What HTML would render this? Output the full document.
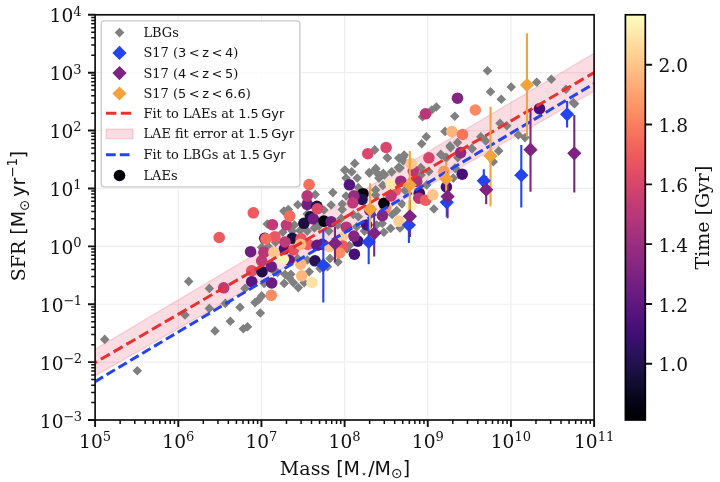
<!DOCTYPE html>
<html><head><meta charset="utf-8"><title>SFR vs Mass</title>
<style>html,body{margin:0;padding:0;background:#fff}svg{display:block}</style></head>
<body>
<svg width="720" height="482" viewBox="0 0 720 482">
<rect width="720" height="482" fill="#fff"/>
<defs><clipPath id="ax"><rect x="95.10" y="14.80" width="499.00" height="405.20"/></clipPath>
<linearGradient id="cb" x1="0" y1="0" x2="0" y2="1"><stop offset="0.000" stop-color="#fcfdbf"/><stop offset="0.025" stop-color="#fcf2b4"/><stop offset="0.050" stop-color="#fde7a9"/><stop offset="0.075" stop-color="#fdda9c"/><stop offset="0.100" stop-color="#fecf92"/><stop offset="0.125" stop-color="#fec488"/><stop offset="0.150" stop-color="#feb77e"/><stop offset="0.175" stop-color="#feac76"/><stop offset="0.200" stop-color="#fe9f6d"/><stop offset="0.225" stop-color="#fd9467"/><stop offset="0.250" stop-color="#fc8961"/><stop offset="0.275" stop-color="#f97b5d"/><stop offset="0.300" stop-color="#f7705c"/><stop offset="0.325" stop-color="#f2645c"/><stop offset="0.350" stop-color="#ed5a5f"/><stop offset="0.375" stop-color="#e75263"/><stop offset="0.400" stop-color="#de4968"/><stop offset="0.425" stop-color="#d5446d"/><stop offset="0.450" stop-color="#ca3e72"/><stop offset="0.475" stop-color="#c03a76"/><stop offset="0.500" stop-color="#b73779"/><stop offset="0.525" stop-color="#ab337c"/><stop offset="0.550" stop-color="#a1307e"/><stop offset="0.575" stop-color="#962c80"/><stop offset="0.600" stop-color="#8c2981"/><stop offset="0.625" stop-color="#832681"/><stop offset="0.650" stop-color="#782281"/><stop offset="0.675" stop-color="#6e1e81"/><stop offset="0.700" stop-color="#641a80"/><stop offset="0.725" stop-color="#5a167e"/><stop offset="0.750" stop-color="#51127c"/><stop offset="0.775" stop-color="#451077"/><stop offset="0.800" stop-color="#3b0f70"/><stop offset="0.825" stop-color="#2f1163"/><stop offset="0.850" stop-color="#251255"/><stop offset="0.875" stop-color="#1d1147"/><stop offset="0.900" stop-color="#140e36"/><stop offset="0.925" stop-color="#0d0a29"/><stop offset="0.950" stop-color="#06051a"/><stop offset="0.975" stop-color="#02020d"/><stop offset="1.000" stop-color="#000004"/></linearGradient>
</defs>
<path d="M178.27 14.80V420.00M261.43 14.80V420.00M344.60 14.80V420.00M427.77 14.80V420.00M510.93 14.80V420.00M95.10 362.11H594.10M95.10 304.23H594.10M95.10 246.34H594.10M95.10 188.46H594.10M95.10 130.57H594.10M95.10 72.69H594.10" stroke="#efefef" stroke-width="1.2" fill="none"/>
<g clip-path="url(#ax)">
<polygon points="95.1,349.2 594.1,53.2 594.1,91.3 95.1,376.0" fill="#dc143c" fill-opacity="0.15" stroke="#dc143c" stroke-opacity="0.15" stroke-width="1.3"/>
<path d="M104.7 334.6l4.8 4.8l-4.8 4.8l-4.8 -4.8zM137.3 365.9l4.8 4.8l-4.8 4.8l-4.8 -4.8zM188.7 276.6l4.8 4.8l-4.8 4.8l-4.8 -4.8zM209.3 283.6l4.8 4.8l-4.8 4.8l-4.8 -4.8zM209.3 303.6l4.8 4.8l-4.8 4.8l-4.8 -4.8zM185.0 310.2l4.8 4.8l-4.8 4.8l-4.8 -4.8zM245.0 283.6l4.8 4.8l-4.8 4.8l-4.8 -4.8zM225.3 298.6l4.8 4.8l-4.8 4.8l-4.8 -4.8zM240.0 302.4l4.8 4.8l-4.8 4.8l-4.8 -4.8zM230.3 316.4l4.8 4.8l-4.8 4.8l-4.8 -4.8zM215.0 326.1l4.8 4.8l-4.8 4.8l-4.8 -4.8zM260.3 308.2l4.8 4.8l-4.8 4.8l-4.8 -4.8zM255.0 297.8l4.8 4.8l-4.8 4.8l-4.8 -4.8zM258.7 294.9l4.8 4.8l-4.8 4.8l-4.8 -4.8zM261.7 291.1l4.8 4.8l-4.8 4.8l-4.8 -4.8zM243.3 323.9l4.8 4.8l-4.8 4.8l-4.8 -4.8zM247.5 321.9l4.8 4.8l-4.8 4.8l-4.8 -4.8zM264.2 278.6l4.8 4.8l-4.8 4.8l-4.8 -4.8zM277.5 267.8l4.8 4.8l-4.8 4.8l-4.8 -4.8zM285.0 269.4l4.8 4.8l-4.8 4.8l-4.8 -4.8zM290.8 269.4l4.8 4.8l-4.8 4.8l-4.8 -4.8zM284.2 278.6l4.8 4.8l-4.8 4.8l-4.8 -4.8zM289.2 272.8l4.8 4.8l-4.8 4.8l-4.8 -4.8zM293.3 277.8l4.8 4.8l-4.8 4.8l-4.8 -4.8zM298.3 282.8l4.8 4.8l-4.8 4.8l-4.8 -4.8zM304.2 277.8l4.8 4.8l-4.8 4.8l-4.8 -4.8zM309.2 266.9l4.8 4.8l-4.8 4.8l-4.8 -4.8zM320.0 263.6l4.8 4.8l-4.8 4.8l-4.8 -4.8zM327.5 261.9l4.8 4.8l-4.8 4.8l-4.8 -4.8zM330.0 253.6l4.8 4.8l-4.8 4.8l-4.8 -4.8zM307.5 255.2l4.8 4.8l-4.8 4.8l-4.8 -4.8zM297.5 253.6l4.8 4.8l-4.8 4.8l-4.8 -4.8zM275.0 266.9l4.8 4.8l-4.8 4.8l-4.8 -4.8zM338.0 257.2l4.8 4.8l-4.8 4.8l-4.8 -4.8zM297.8 199.9l4.8 4.8l-4.8 4.8l-4.8 -4.8zM288.3 204.7l4.8 4.8l-4.8 4.8l-4.8 -4.8zM283.9 206.3l4.8 4.8l-4.8 4.8l-4.8 -4.8zM307.2 209.2l4.8 4.8l-4.8 4.8l-4.8 -4.8zM267.2 219.2l4.8 4.8l-4.8 4.8l-4.8 -4.8zM294.4 220.2l4.8 4.8l-4.8 4.8l-4.8 -4.8zM282.8 227.4l4.8 4.8l-4.8 4.8l-4.8 -4.8zM292.2 226.3l4.8 4.8l-4.8 4.8l-4.8 -4.8zM300.0 225.8l4.8 4.8l-4.8 4.8l-4.8 -4.8zM307.2 226.3l4.8 4.8l-4.8 4.8l-4.8 -4.8zM314.4 223.1l4.8 4.8l-4.8 4.8l-4.8 -4.8zM318.9 221.3l4.8 4.8l-4.8 4.8l-4.8 -4.8zM261.7 242.4l4.8 4.8l-4.8 4.8l-4.8 -4.8zM268.3 241.9l4.8 4.8l-4.8 4.8l-4.8 -4.8zM275.6 237.4l4.8 4.8l-4.8 4.8l-4.8 -4.8zM331.1 200.2l4.8 4.8l-4.8 4.8l-4.8 -4.8zM342.2 199.2l4.8 4.8l-4.8 4.8l-4.8 -4.8zM342.2 204.7l4.8 4.8l-4.8 4.8l-4.8 -4.8zM323.9 205.2l4.8 4.8l-4.8 4.8l-4.8 -4.8zM353.3 209.7l4.8 4.8l-4.8 4.8l-4.8 -4.8zM358.3 211.9l4.8 4.8l-4.8 4.8l-4.8 -4.8zM341.1 213.6l4.8 4.8l-4.8 4.8l-4.8 -4.8zM337.8 220.2l4.8 4.8l-4.8 4.8l-4.8 -4.8zM328.9 226.3l4.8 4.8l-4.8 4.8l-4.8 -4.8zM356.7 221.9l4.8 4.8l-4.8 4.8l-4.8 -4.8zM364.4 226.3l4.8 4.8l-4.8 4.8l-4.8 -4.8zM376.7 220.2l4.8 4.8l-4.8 4.8l-4.8 -4.8zM382.2 218.6l4.8 4.8l-4.8 4.8l-4.8 -4.8zM383.9 227.4l4.8 4.8l-4.8 4.8l-4.8 -4.8zM390.6 223.6l4.8 4.8l-4.8 4.8l-4.8 -4.8zM396.7 205.8l4.8 4.8l-4.8 4.8l-4.8 -4.8zM392.2 209.7l4.8 4.8l-4.8 4.8l-4.8 -4.8zM349.4 240.8l4.8 4.8l-4.8 4.8l-4.8 -4.8zM347.0 244.2l4.8 4.8l-4.8 4.8l-4.8 -4.8zM433.9 204.2l4.8 4.8l-4.8 4.8l-4.8 -4.8zM402.0 199.2l4.8 4.8l-4.8 4.8l-4.8 -4.8zM400.0 223.2l4.8 4.8l-4.8 4.8l-4.8 -4.8zM374.8 145.1l4.8 4.8l-4.8 4.8l-4.8 -4.8zM387.2 152.8l4.8 4.8l-4.8 4.8l-4.8 -4.8zM398.9 153.3l4.8 4.8l-4.8 4.8l-4.8 -4.8zM354.7 158.7l4.8 4.8l-4.8 4.8l-4.8 -4.8zM344.7 165.3l4.8 4.8l-4.8 4.8l-4.8 -4.8zM351.7 167.2l4.8 4.8l-4.8 4.8l-4.8 -4.8zM346.1 173.3l4.8 4.8l-4.8 4.8l-4.8 -4.8zM357.2 173.2l4.8 4.8l-4.8 4.8l-4.8 -4.8zM369.4 168.3l4.8 4.8l-4.8 4.8l-4.8 -4.8zM375.6 164.4l4.8 4.8l-4.8 4.8l-4.8 -4.8zM377.8 168.9l4.8 4.8l-4.8 4.8l-4.8 -4.8zM384.4 170.1l4.8 4.8l-4.8 4.8l-4.8 -4.8zM378.9 173.3l4.8 4.8l-4.8 4.8l-4.8 -4.8zM391.7 167.2l4.8 4.8l-4.8 4.8l-4.8 -4.8zM398.3 162.8l4.8 4.8l-4.8 4.8l-4.8 -4.8zM332.8 187.8l4.8 4.8l-4.8 4.8l-4.8 -4.8zM358.3 182.8l4.8 4.8l-4.8 4.8l-4.8 -4.8zM346.1 191.2l4.8 4.8l-4.8 4.8l-4.8 -4.8zM375.6 185.1l4.8 4.8l-4.8 4.8l-4.8 -4.8zM382.8 180.6l4.8 4.8l-4.8 4.8l-4.8 -4.8zM375.6 190.1l4.8 4.8l-4.8 4.8l-4.8 -4.8zM315.2 189.8l4.8 4.8l-4.8 4.8l-4.8 -4.8zM403.3 152.2l4.8 4.8l-4.8 4.8l-4.8 -4.8zM450.6 142.8l4.8 4.8l-4.8 4.8l-4.8 -4.8zM472.2 143.9l4.8 4.8l-4.8 4.8l-4.8 -4.8zM441.1 150.1l4.8 4.8l-4.8 4.8l-4.8 -4.8zM445.6 152.8l4.8 4.8l-4.8 4.8l-4.8 -4.8zM421.1 163.3l4.8 4.8l-4.8 4.8l-4.8 -4.8zM428.9 166.7l4.8 4.8l-4.8 4.8l-4.8 -4.8zM400.0 163.3l4.8 4.8l-4.8 4.8l-4.8 -4.8zM421.1 170.1l4.8 4.8l-4.8 4.8l-4.8 -4.8zM455.6 163.9l4.8 4.8l-4.8 4.8l-4.8 -4.8zM457.8 152.8l4.8 4.8l-4.8 4.8l-4.8 -4.8zM453.3 173.3l4.8 4.8l-4.8 4.8l-4.8 -4.8zM426.7 180.1l4.8 4.8l-4.8 4.8l-4.8 -4.8zM405.0 185.6l4.8 4.8l-4.8 4.8l-4.8 -4.8zM436.3 102.2l4.8 4.8l-4.8 4.8l-4.8 -4.8zM431.7 105.2l4.8 4.8l-4.8 4.8l-4.8 -4.8zM422.5 112.0l4.8 4.8l-4.8 4.8l-4.8 -4.8zM454.8 111.5l4.8 4.8l-4.8 4.8l-4.8 -4.8zM445.0 126.6l4.8 4.8l-4.8 4.8l-4.8 -4.8zM426.3 131.9l4.8 4.8l-4.8 4.8l-4.8 -4.8zM421.7 138.9l4.8 4.8l-4.8 4.8l-4.8 -4.8zM450.0 141.1l4.8 4.8l-4.8 4.8l-4.8 -4.8zM440.8 149.4l4.8 4.8l-4.8 4.8l-4.8 -4.8zM446.7 152.8l4.8 4.8l-4.8 4.8l-4.8 -4.8zM374.5 145.2l4.8 4.8l-4.8 4.8l-4.8 -4.8zM387.5 153.2l4.8 4.8l-4.8 4.8l-4.8 -4.8zM404.2 150.2l4.8 4.8l-4.8 4.8l-4.8 -4.8zM399.2 153.6l4.8 4.8l-4.8 4.8l-4.8 -4.8zM403.3 156.1l4.8 4.8l-4.8 4.8l-4.8 -4.8zM354.7 158.6l4.8 4.8l-4.8 4.8l-4.8 -4.8zM345.0 165.2l4.8 4.8l-4.8 4.8l-4.8 -4.8zM351.7 166.9l4.8 4.8l-4.8 4.8l-4.8 -4.8zM375.8 163.6l4.8 4.8l-4.8 4.8l-4.8 -4.8zM369.2 167.8l4.8 4.8l-4.8 4.8l-4.8 -4.8zM399.2 162.8l4.8 4.8l-4.8 4.8l-4.8 -4.8zM391.7 166.9l4.8 4.8l-4.8 4.8l-4.8 -4.8zM383.3 168.6l4.8 4.8l-4.8 4.8l-4.8 -4.8zM420.8 162.8l4.8 4.8l-4.8 4.8l-4.8 -4.8zM501.3 94.5l4.8 4.8l-4.8 4.8l-4.8 -4.8zM500.0 118.5l4.8 4.8l-4.8 4.8l-4.8 -4.8zM506.7 121.0l4.8 4.8l-4.8 4.8l-4.8 -4.8zM480.8 131.9l4.8 4.8l-4.8 4.8l-4.8 -4.8zM485.8 136.1l4.8 4.8l-4.8 4.8l-4.8 -4.8zM457.5 137.8l4.8 4.8l-4.8 4.8l-4.8 -4.8zM471.7 143.6l4.8 4.8l-4.8 4.8l-4.8 -4.8zM498.7 146.1l4.8 4.8l-4.8 4.8l-4.8 -4.8zM493.3 156.9l4.8 4.8l-4.8 4.8l-4.8 -4.8zM518.3 130.2l4.8 4.8l-4.8 4.8l-4.8 -4.8zM525.0 132.8l4.8 4.8l-4.8 4.8l-4.8 -4.8zM573.3 97.8l4.8 4.8l-4.8 4.8l-4.8 -4.8zM455.0 163.2l4.8 4.8l-4.8 4.8l-4.8 -4.8zM487.5 66.0l4.8 4.8l-4.8 4.8l-4.8 -4.8zM490.5 87.0l4.8 4.8l-4.8 4.8l-4.8 -4.8zM511.2 82.2l4.8 4.8l-4.8 4.8l-4.8 -4.8zM536.7 77.5l4.8 4.8l-4.8 4.8l-4.8 -4.8zM551.3 74.5l4.8 4.8l-4.8 4.8l-4.8 -4.8zM566.0 84.5l4.8 4.8l-4.8 4.8l-4.8 -4.8zM574.6 99.0l4.8 4.8l-4.8 4.8l-4.8 -4.8z" fill="#808080"/>
<circle cx="219.2" cy="237.5" r="5.80" fill="#ed5a5f"/>
<circle cx="253.3" cy="212.8" r="5.80" fill="#ed5a5f"/>
<circle cx="309.1" cy="184.6" r="5.80" fill="#f7705c"/>
<circle cx="223.7" cy="287.8" r="5.80" fill="#bf3a77"/>
<circle cx="251.7" cy="270.8" r="5.80" fill="#e44f64"/>
<circle cx="251.7" cy="281.7" r="5.80" fill="#59157e"/>
<circle cx="262.0" cy="271.7" r="5.80" fill="#1e1149"/>
<circle cx="271.3" cy="266.7" r="5.80" fill="#6b1d81"/>
<circle cx="271.7" cy="283.0" r="5.80" fill="#6b1d81"/>
<circle cx="271.3" cy="295.3" r="5.80" fill="#fc8c63"/>
<circle cx="261.7" cy="260.8" r="5.80" fill="#bf3a77"/>
<circle cx="289.2" cy="260.0" r="5.80" fill="#641a80"/>
<circle cx="283.3" cy="259.2" r="5.80" fill="#fcf4b6"/>
<circle cx="300.8" cy="264.2" r="5.80" fill="#feb77e"/>
<circle cx="301.7" cy="275.8" r="5.80" fill="#feb77e"/>
<circle cx="312.0" cy="282.5" r="5.80" fill="#fde2a3"/>
<circle cx="315.0" cy="260.8" r="5.80" fill="#29115a"/>
<circle cx="250.6" cy="251.7" r="5.80" fill="#701f81"/>
<circle cx="263.9" cy="252.2" r="5.80" fill="#b73779"/>
<circle cx="284.4" cy="248.9" r="5.80" fill="#440f76"/>
<circle cx="293.3" cy="250.0" r="5.80" fill="#e44f64"/>
<circle cx="273.9" cy="252.2" r="5.80" fill="#fec68a"/>
<circle cx="272.4" cy="224.7" r="5.80" fill="#bf3a77"/>
<circle cx="286.4" cy="225.0" r="5.80" fill="#bf3a77"/>
<circle cx="289.7" cy="216.1" r="5.80" fill="#f56b5c"/>
<circle cx="303.9" cy="223.3" r="5.80" fill="#1a1042"/>
<circle cx="310.5" cy="216.7" r="5.80" fill="#1a1042"/>
<circle cx="313.3" cy="218.9" r="5.80" fill="#701f81"/>
<circle cx="307.2" cy="204.4" r="5.80" fill="#701f81"/>
<circle cx="307.2" cy="195.9" r="5.80" fill="#b73779"/>
<circle cx="316.9" cy="206.4" r="5.80" fill="#1a1042"/>
<circle cx="317.4" cy="208.8" r="5.80" fill="#de4968"/>
<circle cx="275.0" cy="236.7" r="5.80" fill="#ea5661"/>
<circle cx="264.7" cy="238.3" r="5.80" fill="#3b0f70"/>
<circle cx="265.8" cy="238.9" r="5.80" fill="#f56b5c"/>
<circle cx="292.2" cy="238.3" r="5.80" fill="#1a1042"/>
<circle cx="285.0" cy="242.0" r="5.80" fill="#bf3a77"/>
<circle cx="301.1" cy="238.9" r="5.80" fill="#ea5661"/>
<circle cx="307.8" cy="244.4" r="5.80" fill="#ef5d5e"/>
<circle cx="300.4" cy="244.4" r="5.80" fill="#feb77e"/>
<circle cx="317.0" cy="245.3" r="5.80" fill="#641a80"/>
<circle cx="385.6" cy="208.3" r="5.80" fill="#fc8961"/>
<circle cx="383.9" cy="203.3" r="5.80" fill="#02020b"/>
<circle cx="382.4" cy="215.6" r="5.80" fill="#842681"/>
<circle cx="369.8" cy="210.2" r="5.80" fill="#701f81"/>
<circle cx="366.7" cy="225.0" r="5.80" fill="#4c117a"/>
<circle cx="398.9" cy="221.1" r="5.80" fill="#fecf92"/>
<circle cx="323.9" cy="221.1" r="5.80" fill="#02020b"/>
<circle cx="331.1" cy="221.7" r="5.80" fill="#701f81"/>
<circle cx="346.3" cy="227.2" r="5.80" fill="#b73779"/>
<circle cx="342.2" cy="237.2" r="5.80" fill="#fecf92"/>
<circle cx="357.8" cy="241.1" r="5.80" fill="#3b0f70"/>
<circle cx="353.9" cy="236.1" r="5.80" fill="#842681"/>
<circle cx="354.4" cy="254.2" r="5.80" fill="#440f76"/>
<circle cx="322.2" cy="244.4" r="5.80" fill="#641a80"/>
<circle cx="329.4" cy="246.7" r="5.80" fill="#fec68a"/>
<circle cx="342.8" cy="246.1" r="5.80" fill="#ea5661"/>
<circle cx="339.6" cy="253.0" r="5.80" fill="#fc8c63"/>
<circle cx="367.8" cy="153.7" r="5.80" fill="#db476a"/>
<circle cx="386.1" cy="147.5" r="5.80" fill="#db476a"/>
<circle cx="349.4" cy="184.8" r="5.80" fill="#54137d"/>
<circle cx="363.0" cy="193.7" r="5.80" fill="#02020b"/>
<circle cx="362.0" cy="199.5" r="5.80" fill="#251255"/>
<circle cx="353.9" cy="195.9" r="5.80" fill="#942c80"/>
<circle cx="352.8" cy="202.8" r="5.80" fill="#bf3a77"/>
<circle cx="395.6" cy="190.3" r="5.80" fill="#ef5d5e"/>
<circle cx="391.0" cy="196.0" r="5.80" fill="#bf3a77"/>
<circle cx="391.1" cy="184.2" r="5.80" fill="#fde7a9"/>
<circle cx="428.9" cy="157.8" r="5.80" fill="#d6456c"/>
<circle cx="460.6" cy="152.6" r="5.80" fill="#902a81"/>
<circle cx="462.2" cy="174.2" r="5.80" fill="#471078"/>
<circle cx="443.9" cy="171.4" r="5.80" fill="#fd9668"/>
<circle cx="413.3" cy="170.9" r="5.80" fill="#b73779"/>
<circle cx="411.1" cy="163.7" r="5.80" fill="#fec68a"/>
<circle cx="416.7" cy="181.4" r="5.80" fill="#aa337d"/>
<circle cx="400.8" cy="181.2" r="5.80" fill="#992d80"/>
<circle cx="446.4" cy="187.0" r="5.80" fill="#471078"/>
<circle cx="419.3" cy="193.2" r="5.80" fill="#3b0f70"/>
<circle cx="418.7" cy="198.2" r="5.80" fill="#b73779"/>
<circle cx="425.7" cy="200.2" r="5.80" fill="#ef5d5e"/>
<circle cx="432.8" cy="194.8" r="5.80" fill="#fec68a"/>
<circle cx="410.8" cy="205.8" r="5.80" fill="#fcf4b6"/>
<circle cx="425.5" cy="113.8" r="5.80" fill="#b73779"/>
<circle cx="451.9" cy="131.6" r="5.80" fill="#feb47b"/>
<circle cx="457.5" cy="98.2" r="5.80" fill="#842681"/>
<circle cx="475.3" cy="110.0" r="5.80" fill="#fc8961"/>
<circle cx="462.5" cy="134.5" r="5.80" fill="#f8745c"/>
<circle cx="539.5" cy="108.7" r="5.80" fill="#471078"/>
<path d="M95.10 362.60L594.10 72.60" stroke="#ea3030" stroke-width="3.0" stroke-dasharray="10.385 4.43" stroke-dashoffset="8.24" fill="none"/>
<path d="M95.10 381.60L594.10 83.60" stroke="#2444f0" stroke-width="3.0" stroke-dasharray="9.66 4.163" stroke-dashoffset="0.45" fill="none"/>
<path d="M323.3 230.0V302.5" stroke="#2444f0" stroke-width="2.1" fill="none"/>
<path d="M368.7 216.7V264.2" stroke="#2444f0" stroke-width="2.1" fill="none"/>
<path d="M408.9 212.0V243.0" stroke="#2444f0" stroke-width="2.1" fill="none"/>
<path d="M446.8 192.0V216.7" stroke="#2444f0" stroke-width="2.1" fill="none"/>
<path d="M483.8 169.2V190.0" stroke="#2444f0" stroke-width="2.1" fill="none"/>
<path d="M521.3 145.0V207.5" stroke="#2444f0" stroke-width="2.1" fill="none"/>
<path d="M567.1 101.0V127.5" stroke="#2444f0" stroke-width="2.1" fill="none"/>
<path d="M335.0 227.0V262.0" stroke="#7d2382" stroke-width="2.1" fill="none"/>
<path d="M374.2 214.4V256.5" stroke="#7d2382" stroke-width="2.1" fill="none"/>
<path d="M409.9 200.0V237.0" stroke="#7d2382" stroke-width="2.1" fill="none"/>
<path d="M447.6 182.0V218.3" stroke="#7d2382" stroke-width="2.1" fill="none"/>
<path d="M486.2 176.0V204.2" stroke="#7d2382" stroke-width="2.1" fill="none"/>
<path d="M530.5 109.7V191.7" stroke="#7d2382" stroke-width="2.1" fill="none"/>
<path d="M574.3 115.0V192.5" stroke="#7d2382" stroke-width="2.1" fill="none"/>
<path d="M370.1 183.2V229.4" stroke="#f5a23c" stroke-width="2.1" fill="none"/>
<path d="M409.8 151.0V210.0" stroke="#f5a23c" stroke-width="2.1" fill="none"/>
<path d="M446.2 161.5V191.7" stroke="#f5a23c" stroke-width="2.1" fill="none"/>
<path d="M490.5 106.7V206.3" stroke="#f5a23c" stroke-width="2.1" fill="none"/>
<path d="M527.0 33.3V136.7" stroke="#f5a23c" stroke-width="2.1" fill="none"/>
<path d="M323.3 258.2l7.1 7.1l-7.1 7.1l-7.1 -7.1z" fill="#2444f0"/>
<path d="M368.7 234.8l7.1 7.1l-7.1 7.1l-7.1 -7.1z" fill="#2444f0"/>
<path d="M408.9 217.9l7.1 7.1l-7.1 7.1l-7.1 -7.1z" fill="#2444f0"/>
<path d="M446.8 195.2l7.1 7.1l-7.1 7.1l-7.1 -7.1z" fill="#2444f0"/>
<path d="M483.8 173.7l7.1 7.1l-7.1 7.1l-7.1 -7.1z" fill="#2444f0"/>
<path d="M521.3 168.1l7.1 7.1l-7.1 7.1l-7.1 -7.1z" fill="#2444f0"/>
<path d="M567.1 107.2l7.1 7.1l-7.1 7.1l-7.1 -7.1z" fill="#2444f0"/>
<path d="M335.0 236.2l7.1 7.1l-7.1 7.1l-7.1 -7.1z" fill="#7d2382"/>
<path d="M374.2 226.2l7.1 7.1l-7.1 7.1l-7.1 -7.1z" fill="#7d2382"/>
<path d="M409.9 209.2l7.1 7.1l-7.1 7.1l-7.1 -7.1z" fill="#7d2382"/>
<path d="M447.6 189.5l7.1 7.1l-7.1 7.1l-7.1 -7.1z" fill="#7d2382"/>
<path d="M486.2 182.6l7.1 7.1l-7.1 7.1l-7.1 -7.1z" fill="#7d2382"/>
<path d="M530.5 142.6l7.1 7.1l-7.1 7.1l-7.1 -7.1z" fill="#7d2382"/>
<path d="M574.3 146.2l7.1 7.1l-7.1 7.1l-7.1 -7.1z" fill="#7d2382"/>
<path d="M370.1 202.2l7.1 7.1l-7.1 7.1l-7.1 -7.1z" fill="#f5a23c"/>
<path d="M409.8 177.9l7.1 7.1l-7.1 7.1l-7.1 -7.1z" fill="#f5a23c"/>
<path d="M446.2 171.7l7.1 7.1l-7.1 7.1l-7.1 -7.1z" fill="#f5a23c"/>
<path d="M490.5 148.7l7.1 7.1l-7.1 7.1l-7.1 -7.1z" fill="#f5a23c"/>
<path d="M527.0 77.9l7.1 7.1l-7.1 7.1l-7.1 -7.1z" fill="#f5a23c"/>
</g>
<path d="M95.10 420.00v7.10M178.27 420.00v7.10M261.43 420.00v7.10M344.60 420.00v7.10M427.77 420.00v7.10M510.93 420.00v7.10M594.10 420.00v7.10M95.10 420.00h-7.10M95.10 362.11h-7.10M95.10 304.23h-7.10M95.10 246.34h-7.10M95.10 188.46h-7.10M95.10 130.57h-7.10M95.10 72.69h-7.10M95.10 14.80h-7.10" stroke="#111" stroke-width="1.9" fill="none"/>
<path d="M120.14 420.00v3.90M134.78 420.00v3.90M145.17 420.00v3.90M153.23 420.00v3.90M159.82 420.00v3.90M165.38 420.00v3.90M170.21 420.00v3.90M174.46 420.00v3.90M203.30 420.00v3.90M217.95 420.00v3.90M228.34 420.00v3.90M236.40 420.00v3.90M242.98 420.00v3.90M248.55 420.00v3.90M253.37 420.00v3.90M257.63 420.00v3.90M286.47 420.00v3.90M301.11 420.00v3.90M311.50 420.00v3.90M319.56 420.00v3.90M326.15 420.00v3.90M331.72 420.00v3.90M336.54 420.00v3.90M340.79 420.00v3.90M369.64 420.00v3.90M384.28 420.00v3.90M394.67 420.00v3.90M402.73 420.00v3.90M409.32 420.00v3.90M414.88 420.00v3.90M419.71 420.00v3.90M423.96 420.00v3.90M452.80 420.00v3.90M467.45 420.00v3.90M477.84 420.00v3.90M485.90 420.00v3.90M492.48 420.00v3.90M498.05 420.00v3.90M502.87 420.00v3.90M507.13 420.00v3.90M535.97 420.00v3.90M550.61 420.00v3.90M561.00 420.00v3.90M569.06 420.00v3.90M575.65 420.00v3.90M581.22 420.00v3.90M586.04 420.00v3.90M590.29 420.00v3.90M95.10 402.57h-3.90M95.10 392.38h-3.90M95.10 385.15h-3.90M95.10 379.54h-3.90M95.10 374.96h-3.90M95.10 371.08h-3.90M95.10 367.72h-3.90M95.10 364.76h-3.90M95.10 344.69h-3.90M95.10 334.50h-3.90M95.10 327.26h-3.90M95.10 321.65h-3.90M95.10 317.07h-3.90M95.10 313.20h-3.90M95.10 309.84h-3.90M95.10 306.88h-3.90M95.10 286.80h-3.90M95.10 276.61h-3.90M95.10 269.38h-3.90M95.10 263.77h-3.90M95.10 259.18h-3.90M95.10 255.31h-3.90M95.10 251.95h-3.90M95.10 248.99h-3.90M95.10 228.92h-3.90M95.10 218.72h-3.90M95.10 211.49h-3.90M95.10 205.88h-3.90M95.10 201.30h-3.90M95.10 197.42h-3.90M95.10 194.07h-3.90M95.10 191.11h-3.90M95.10 171.03h-3.90M95.10 160.84h-3.90M95.10 153.61h-3.90M95.10 148.00h-3.90M95.10 143.41h-3.90M95.10 139.54h-3.90M95.10 136.18h-3.90M95.10 133.22h-3.90M95.10 113.15h-3.90M95.10 102.95h-3.90M95.10 95.72h-3.90M95.10 90.11h-3.90M95.10 85.53h-3.90M95.10 81.65h-3.90M95.10 78.30h-3.90M95.10 75.33h-3.90M95.10 55.26h-3.90M95.10 45.07h-3.90M95.10 37.84h-3.90M95.10 32.23h-3.90M95.10 27.64h-3.90M95.10 23.77h-3.90M95.10 20.41h-3.90M95.10 17.45h-3.90" stroke="#111" stroke-width="1.5" fill="none"/>
<rect x="95.10" y="14.80" width="499.00" height="405.20" fill="none" stroke="#111" stroke-width="1.7"/>
<g font-family="'DejaVu Serif','Liberation Serif',serif" fill="#111">
<text x="95.1" y="448.0" text-anchor="middle" font-size="18.60">10<tspan dy="-6.7" font-size="13.02">5</tspan></text>
<text x="178.3" y="448.0" text-anchor="middle" font-size="18.60">10<tspan dy="-6.7" font-size="13.02">6</tspan></text>
<text x="261.4" y="448.0" text-anchor="middle" font-size="18.60">10<tspan dy="-6.7" font-size="13.02">7</tspan></text>
<text x="344.6" y="448.0" text-anchor="middle" font-size="18.60">10<tspan dy="-6.7" font-size="13.02">8</tspan></text>
<text x="427.8" y="448.0" text-anchor="middle" font-size="18.60">10<tspan dy="-6.7" font-size="13.02">9</tspan></text>
<text x="510.9" y="448.0" text-anchor="middle" font-size="18.60">10<tspan dy="-6.7" font-size="13.02">10</tspan></text>
<text x="594.1" y="448.0" text-anchor="middle" font-size="18.60">10<tspan dy="-6.7" font-size="13.02">11</tspan></text>
<text x="81.5" y="427.5" text-anchor="end" font-size="18.60">10<tspan dy="-6.7" font-size="13.02" letter-spacing="-0.6">−3</tspan></text>
<text x="81.5" y="369.6" text-anchor="end" font-size="18.60">10<tspan dy="-6.7" font-size="13.02" letter-spacing="-0.6">−2</tspan></text>
<text x="81.5" y="311.7" text-anchor="end" font-size="18.60">10<tspan dy="-6.7" font-size="13.02" letter-spacing="-0.6">−1</tspan></text>
<text x="81.5" y="253.8" text-anchor="end" font-size="18.60">10<tspan dy="-6.7" font-size="13.02">0</tspan></text>
<text x="81.5" y="196.0" text-anchor="end" font-size="18.60">10<tspan dy="-6.7" font-size="13.02">1</tspan></text>
<text x="81.5" y="138.1" text-anchor="end" font-size="18.60">10<tspan dy="-6.7" font-size="13.02">2</tspan></text>
<text x="81.5" y="80.2" text-anchor="end" font-size="18.60">10<tspan dy="-6.7" font-size="13.02">3</tspan></text>
<text x="81.5" y="22.3" text-anchor="end" font-size="18.60">10<tspan dy="-6.7" font-size="13.02">4</tspan></text>
<text x="345.0" y="474.6" text-anchor="middle" font-size="19.00">Mass <tspan font-family="'DejaVu Sans','Liberation Sans',sans-serif">[M</tspan><tspan font-family="'DejaVu Sans','Liberation Sans',sans-serif" font-size="9.50" dy="2.3" dx="1">⋆</tspan><tspan font-family="'DejaVu Sans','Liberation Sans',sans-serif" dy="-2.3" dx="1.2">/M</tspan><tspan font-family="'DejaVu Sans','Liberation Sans',sans-serif" font-size="14.06" dy="3.8">⊙</tspan><tspan font-family="'DejaVu Sans','Liberation Sans',sans-serif" dy="-3.8">]</tspan></text>
<text transform="translate(25.2 216.0) rotate(-90)" text-anchor="middle" font-size="19.00">SFR <tspan font-family="'DejaVu Sans','Liberation Sans',sans-serif">[M</tspan><tspan font-family="'DejaVu Sans','Liberation Sans',sans-serif" font-size="13.30" dy="3.8">⊙</tspan><tspan font-family="'DejaVu Sans','Liberation Sans',sans-serif" dy="-3.8" dx="3">yr</tspan><tspan font-family="'DejaVu Sans','Liberation Sans',sans-serif" font-size="13.30" dy="-8.0">−1</tspan><tspan font-family="'DejaVu Sans','Liberation Sans',sans-serif" dy="8.0">]</tspan></text>
<rect x="625.40" y="14.80" width="19.90" height="405.20" fill="url(#cb)" stroke="#000" stroke-width="1.7"/>
<text x="658.5" y="371.3" font-size="18.60">1.0</text>
<text x="658.5" y="311.5" font-size="18.60">1.2</text>
<text x="658.5" y="251.6" font-size="18.60">1.4</text>
<text x="658.5" y="191.8" font-size="18.60">1.6</text>
<text x="658.5" y="132.0" font-size="18.60">1.8</text>
<text x="658.5" y="72.2" font-size="18.60">2.0</text>
<path d="M645.30 363.75h6.80M645.30 303.95h6.80M645.30 244.15h6.80M645.30 184.34h6.80M645.30 124.54h6.80M645.30 64.74h6.80" stroke="#111" stroke-width="1.9" fill="none"/>
<text transform="translate(708.6 217.6) rotate(-90)" text-anchor="middle" font-size="19.00">Time [Gyr]</text>
<rect x="101.30" y="20.90" width="198.60" height="166.00" rx="2.8" ry="2.8" fill="#fff" fill-opacity="0.8" stroke="#cccccc" stroke-width="1.4"/>
<path d="M119.5 27.8l4.8 4.8l-4.8 4.8l-4.8 -4.8z" fill="#808080"/>
<path d="M119.5 45.8l7.1 7.1l-7.1 7.1l-7.1 -7.1z" fill="#2444f0"/>
<path d="M119.5 66.0l7.1 7.1l-7.1 7.1l-7.1 -7.1z" fill="#7d2382"/>
<path d="M119.5 86.4l7.1 7.1l-7.1 7.1l-7.1 -7.1z" fill="#f5a23c"/>
<path d="M106.0 113.3h27.0" stroke="#ea3030" stroke-width="3.0" stroke-dasharray="10.385 4.43" fill="none"/>
<rect x="106.0" y="129.1" width="27" height="9.7" fill="#dc143c" fill-opacity="0.15" stroke="#dc143c" stroke-opacity="0.15" stroke-width="1.3"/>
<path d="M106.0 154.7h27.0" stroke="#2444f0" stroke-width="3.0" stroke-dasharray="9.66 4.163" fill="none"/>
<circle cx="119.5" cy="175.5" r="5.80" fill="#000004"/>
<text x="143.5" y="37.0" font-size="12.95">LBGs</text>
<text x="143.5" y="57.4" font-size="12.95">S17 (<tspan font-family="'DejaVu Sans','Liberation Sans',sans-serif">3 &lt; z &lt; 4</tspan>)</text>
<text x="143.5" y="77.6" font-size="12.95">S17 (<tspan font-family="'DejaVu Sans','Liberation Sans',sans-serif">4 &lt; z &lt; 5</tspan>)</text>
<text x="143.5" y="98.0" font-size="12.95">S17 (<tspan font-family="'DejaVu Sans','Liberation Sans',sans-serif">5 &lt; z &lt; 6.6</tspan>)</text>
<text x="143.5" y="117.8" font-size="12.95">Fit to LAEs at <tspan font-family="'DejaVu Sans','Liberation Sans',sans-serif">1.5 Gyr</tspan></text>
<text x="143.5" y="138.4" font-size="12.95">LAE fit error at <tspan font-family="'DejaVu Sans','Liberation Sans',sans-serif">1.5 Gyr</tspan></text>
<text x="143.5" y="159.2" font-size="12.95">Fit to LBGs at <tspan font-family="'DejaVu Sans','Liberation Sans',sans-serif">1.5 Gyr</tspan></text>
<text x="143.5" y="180.0" font-size="12.95">LAEs</text>
</g>
</svg>
</body></html>
